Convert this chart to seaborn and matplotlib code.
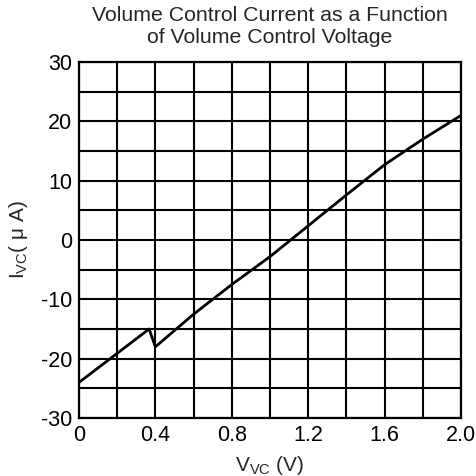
import matplotlib
matplotlib.use("Agg")
import matplotlib.pyplot as plt
import seaborn as sns
import pandas as pd

# Curve
v_vc = [0.0, 0.2, 0.367, 0.40, 0.6, 0.8, 1.0, 1.2, 1.4, 1.6, 1.8, 2.0]
i_vc = [-24.0, -19.1, -15.0, -18.0, -12.5, -7.5, -2.8, 2.4, 7.6, 12.7, 17.0, 21.0]

x_ticks = [0, 0.4, 0.8, 1.2, 1.6, 2.0]
x_tick_labels = ["0", "0.4", "0.8", "1.2", "1.6", "2.0"]
y_ticks = [-30, -20, -10, 0, 10, 20, 30]

df = pd.DataFrame({"V": v_vc, "I": i_vc})

sns.set_style("white")
plt.rcParams["font.family"] = ["Liberation Sans", "DejaVu Sans"]
plt.rcParams["mathtext.fontset"] = "custom"
plt.rcParams["mathtext.rm"] = "Liberation Sans"
plt.rcParams["axes.unicode_minus"] = False

fig = plt.figure(figsize=(4.77, 4.76), dpi=100)
ax = fig.add_axes([0.1656, 0.1218, 0.801, 0.748])

sns.lineplot(data=df, x="V", y="I", ax=ax, color="black", linewidth=2.0,
             estimator=None, sort=False)

ax.set_xlim(0, 2.0)
ax.set_ylim(-30, 30)
ax.set_xticks([i * 0.2 for i in range(11)], minor=True)
ax.set_yticks([-30 + 5 * i for i in range(13)], minor=True)
ax.set_xticks(x_ticks)
ax.set_xticklabels(x_tick_labels)
ax.set_yticks(y_ticks)
ax.grid(True, which="both", color="black", linewidth=1.5)
ax.tick_params(which="both", length=0, labelsize=15.5, colors="black", pad=5)
for s in ax.spines.values():
    s.set_color("black")
    s.set_linewidth(1.6)

ax.set_xlabel(r"V$\mathregular{_{VC}}$ (V)", fontsize=15, labelpad=6)
ax.set_ylabel(r"I$\mathregular{_{VC}}$( μ A)", fontsize=15, labelpad=8)
ax.set_title("Volume Control Current as a Function\nof Volume Control Voltage",
             fontsize=15.3, pad=14, linespacing=1.15)

fig.savefig("out.png", dpi=100)
